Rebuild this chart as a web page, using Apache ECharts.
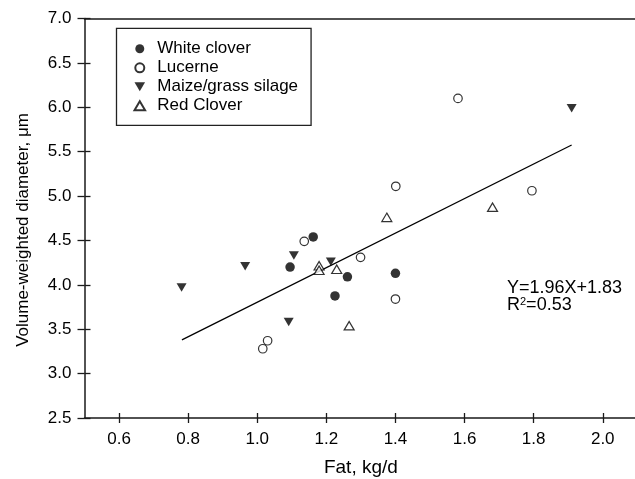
<!DOCTYPE html>
<html>
<head>
<meta charset="utf-8">
<script src="https://cdn.jsdelivr.net/npm/echarts@6/dist/echarts.min.js"></script>
<style>
html,body{margin:0;padding:0;background:#fff;}
#chart{width:635px;height:479px;}
</style>
</head>
<body>
<div id="chart"></div>
<script>
// ---- data ----
const xTicks = [0.6, 0.8, 1.0, 1.2, 1.4, 1.6, 1.8, 2.0];
const yTicks = [2.5, 3.0, 3.5, 4.0, 4.5, 5.0, 5.5, 6.0, 6.5, 7.0];
const seriesNames = ['White clover', 'Lucerne', 'Maize/grass silage', 'Red Clover'];
const whiteClover = [[1.162, 4.54], [1.095, 4.20], [1.261, 4.09], [1.400, 4.13], [1.225, 3.875]];
const lucerne = [[1.136, 4.49], [1.299, 4.31], [1.400, 3.84], [1.030, 3.37], [1.016, 3.28], [1.401, 5.11], [1.581, 6.10], [1.795, 5.06]];
const maizeSilage = [[0.781, 3.97], [0.965, 4.21], [1.106, 4.33], [1.213, 4.26], [1.091, 3.58], [1.910, 5.99]];
const redClover = [[1.179, 4.215], [1.179, 4.165], [1.230, 4.175], [1.266, 3.54], [1.375, 4.76], [1.681, 4.875]];
const regressionLine = [[0.782, 3.38], [1.910, 5.575]];
const equationText = 'Y=1.96X+1.83';
const r2Text = 'R{sup|2}=0.53';
const xName = 'Fat, kg/d';
const yName = 'Volume-weighted diameter, \u03bcm';

const FONT = '"Liberation Sans", Arial, Helvetica, sans-serif';
const chart = echarts.init(document.getElementById('chart'), null, {renderer: 'canvas'});
const triDown = 'path://M0,0L20,0L10,17Z';
const triUp = 'path://M10,0L20,17L0,17Z';
const lineC = '#1a1a1a';
const baseX = {min: 0.5, max: 2.1, type: 'value', splitLine: {show: false}};
const baseY = {min: 2.5, max: 7.0, type: 'value', splitLine: {show: false}};

chart.setOption({
  animation: false,
  backgroundColor: '#fff',
  textStyle: {fontFamily: FONT, color: '#000'},
  grid: {left: 84.5, top: 18.5, width: 552.8, height: 399.5, show: false, containLabel: false, outerBoundsMode: 'none'},
  legend: {
    orient: 'vertical', left: 116.5, top: 28.3,
    data: seriesNames,
    itemWidth: 27, itemHeight: 9, itemGap: 0,
    padding: [11, 13, 10, 17],
    borderColor: '#222', borderWidth: 1.3,
    textStyle: {fontFamily: FONT, fontSize: 17, color: '#000', lineHeight: 19, padding: [0, 0, 0, -1]},
    selectedMode: false
  },
  xAxis: [
    Object.assign({}, baseX, {
      position: 'bottom', name: xName, nameLocation: 'middle', nameGap: 40,
      nameTextStyle: {fontFamily: FONT, fontSize: 19, color: '#000'},
      axisLine: {show: true, lineStyle: {color: lineC, width: 1.5}},
      axisTick: {show: true, inside: false, length: 5, customValues: xTicks, lineStyle: {color: lineC, width: 1.3}},
      axisLabel: {show: true, customValues: xTicks, margin: 13, fontSize: 17, color: '#000', fontFamily: FONT,
        formatter: v => Number(v).toFixed(1)}
    }),
    Object.assign({}, baseX, {
      position: 'bottom',
      axisLine: {show: false},
      axisTick: {show: true, inside: true, length: 5, customValues: xTicks, lineStyle: {color: lineC, width: 1.3}},
      axisLabel: {show: false}
    }),
    Object.assign({}, baseX, {
      position: 'top',
      axisLine: {show: true, lineStyle: {color: lineC, width: 1.5}},
      axisTick: {show: false}, axisLabel: {show: false}
    })
  ],
  yAxis: [
    Object.assign({}, baseY, {
      position: 'left',
      axisLine: {show: true, lineStyle: {color: lineC, width: 1.5}},
      axisTick: {show: true, inside: false, length: 7, customValues: yTicks, lineStyle: {color: lineC, width: 1.3}},
      axisLabel: {show: true, customValues: yTicks, margin: 13, fontSize: 17, color: '#000', fontFamily: FONT,
        formatter: v => Number(v).toFixed(1)}
    }),
    Object.assign({}, baseY, {
      position: 'left',
      axisLine: {show: false},
      axisTick: {show: true, inside: true, length: 6, customValues: yTicks, lineStyle: {color: lineC, width: 1.3}},
      axisLabel: {show: false}
    })
  ],
  graphic: [
    {type: 'text', x: 23, y: 230, rotation: Math.PI / 2,
      style: {text: yName, font: '17px ' + FONT, fill: '#000', align: 'center', verticalAlign: 'middle'}},
    {type: 'text', left: 507, top: 279, style: {text: equationText, font: '18px ' + FONT, fill: '#000'}},
    {type: 'text', left: 507, top: 296, style: {text: r2Text, font: '18px ' + FONT, fill: '#000',
      rich: {sup: {fontSize: 11, verticalAlign: 'top', padding: [0, 0, 8, 0], fontFamily: FONT, fill: '#000'}}}}
  ],
  series: [
    {type: 'line', name: 'fit', data: regressionLine, showSymbol: false, symbol: 'none',
      lineStyle: {color: '#000', width: 1.3}, z: 1, silent: true},
    {type: 'scatter', name: seriesNames[0], data: whiteClover, symbol: 'circle', symbolSize: 9.5,
      itemStyle: {color: '#000', borderColor: '#000', borderWidth: 0}, z: 3},
    {type: 'scatter', name: seriesNames[1], data: lucerne, symbol: 'circle', symbolSize: 8.5,
      itemStyle: {color: '#fff', borderColor: '#000', borderWidth: 1.2}, z: 3},
    {type: 'scatter', name: seriesNames[2], data: maizeSilage, symbol: triDown, symbolSize: [10, 8.5], symbolKeepAspect: false,
      itemStyle: {color: '#000', borderColor: '#000', borderWidth: 0}, z: 3},
    {type: 'scatter', name: seriesNames[3], data: redClover, symbol: triUp, symbolSize: [10, 8.5], symbolKeepAspect: false,
      itemStyle: {color: '#fff', borderColor: '#000', borderWidth: 1.2}, z: 3}
  ]
});
</script>
</body>
</html>
